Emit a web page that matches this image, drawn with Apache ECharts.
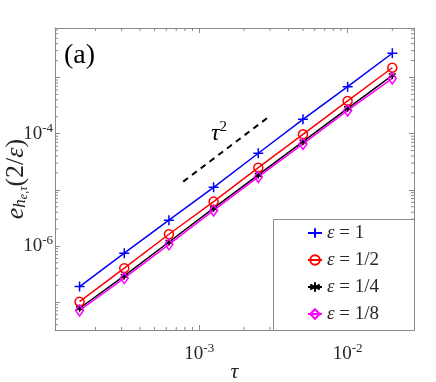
<!DOCTYPE html>
<html>
<head>
<meta charset="utf-8">
<script src="https://cdn.jsdelivr.net/npm/echarts@6/dist/echarts.min.js"></script>
<style>
  html, body { margin: 0; padding: 0; background: #fff; }
  #chart { width: 436px; height: 382px; }
</style>
</head>
<body>
<div id="chart"></div>
<script>
// time steps tau
const tau = [1.5625e-4, 3.125e-4, 6.25e-4, 1.25e-3, 2.5e-3, 5e-3, 1e-2, 2e-2];
// errors e_{h_e,tau}(2/eps)
const errEps1 = [1.90e-7, 7.45e-7, 2.88e-6, 1.11e-5, 4.48e-5, 1.80e-4, 6.85e-4, 2.70e-3];
const errEps2 = [1.02e-7, 4.03e-7, 1.62e-6, 6.17e-6, 2.48e-5, 9.75e-5, 3.82e-4, 1.49e-3];
const errEps4 = [7.8e-8, 2.94e-7, 1.18e-6, 4.71e-6, 1.84e-5, 7.21e-5, 2.83e-4, 1.09e-3];
const errEps8 = [7.15e-8, 2.69e-7, 1.07e-6, 4.30e-6, 1.70e-5, 6.56e-5, 2.59e-4, 9.6e-4];
const seriesNames = ['ε = 1', 'ε = 1/2', 'ε = 1/4', 'ε = 1/8'];
// reference slope line tau^2
const refTau = [7.8e-4, 3.0e-3];
const refErr = [1.4e-5, 2.07e-4];
// labelled decades
const xLabelExp = [-3, -2];
const yLabelExp = [-4, -6];

const SERIF = '"Liberation Serif", "DejaVu Serif", serif';
const AXIS_GRAY = '#8a8a8a';
const LABEL_COLOR = '#262626';
const X_MIN = 1.067e-4, X_MAX = 0.028;
const Y_MIN = 3.2e-8, Y_MAX = 7.6e-3;

const chart = echarts.init(document.getElementById('chart'));

function pow10Label(keep) {
  return function (v) {
    const e = Math.round(Math.log10(v));
    if (Math.abs(Math.log10(v) - e) > 1e-6 || keep.indexOf(e) < 0) return '';
    return '{b|10}{s|' + e + '}';
  };
}
const powRich = {
  b: { fontFamily: SERIF, fontSize: 19, color: LABEL_COLOR },
  s: { fontFamily: SERIF, fontSize: 13, color: LABEL_COLOR, padding: [0, 0, 11, 0] }
};

function axisBase(show) {
  return {
    type: 'log',
    logBase: 10,
    axisLine: { show: true, lineStyle: { color: AXIS_GRAY, width: 1 } },
    axisTick: { show: true, inside: true, length: 5, lineStyle: { color: AXIS_GRAY } },
    splitLine: { show: false },
    axisLabel: { show: show }
  };
}

const xBottom = Object.assign(axisBase(true), {
  position: 'bottom', min: X_MIN, max: X_MAX,
  name: 'τ', nameLocation: 'middle', nameGap: 31, nameMoveOverlap: false,
  nameTextStyle: { fontFamily: SERIF, fontSize: 22, fontStyle: 'italic', color: LABEL_COLOR },
  axisLabel: { show: true, margin: 12, fontFamily: SERIF, fontSize: 19, color: LABEL_COLOR,
    formatter: pow10Label(xLabelExp), rich: powRich, showMinLabel: false, showMaxLabel: false }
});
const xTop = Object.assign(axisBase(false), { position: 'top', min: X_MIN, max: X_MAX });
const yLeft = Object.assign(axisBase(true), {
  position: 'left', min: Y_MIN, max: Y_MAX,
  name: '{e|e}{h|h}{ss|e,τ}{n|(2/}{ni|ε}{n|)}', nameLocation: 'middle', nameGap: 25, nameMoveOverlap: false,
  nameTextStyle: {
    padding: [0, 0, 0, 0],
    rich: {
      e: { fontFamily: SERIF, fontSize: 26, fontStyle: 'italic', color: LABEL_COLOR },
      h: { fontFamily: SERIF, fontSize: 17, fontStyle: 'italic', color: LABEL_COLOR, padding: [9, 0, 0, 0] },
      ss: { fontFamily: SERIF, fontSize: 12, fontStyle: 'italic', color: LABEL_COLOR, padding: [16, 0, 0, 0] },
      n: { fontFamily: SERIF, fontSize: 26, color: LABEL_COLOR },
      ni: { fontFamily: SERIF, fontSize: 26, fontStyle: 'italic', color: LABEL_COLOR }
    }
  },
  axisLabel: { show: true, margin: 2, fontFamily: SERIF, fontSize: 19, color: LABEL_COLOR,
    formatter: pow10Label(yLabelExp), rich: powRich, showMinLabel: false, showMaxLabel: false }
});
const yRight = Object.assign(axisBase(false), { position: 'right', min: Y_MIN, max: Y_MAX });

function pts(ys) { return tau.map((t, i) => [t, ys[i]]); }

const plusPath = 'path://M0,-5L0,5M-5,0L5,0';
const starPath = 'path://M0,-5L0,5M-4.3,-2.5L4.3,2.5M-4.3,2.5L4.3,-2.5';

function lineSeries(name, data, color, symbol, size, fill) {
  return {
    name: name, type: 'line', data: pts(data),
    xAxisIndex: 0, yAxisIndex: 0,
    symbol: symbol, symbolSize: size, showSymbol: true,
    lineStyle: { color: color, width: 1.5 },
    itemStyle: { color: fill || color, borderColor: color, borderWidth: 1.5 },
    z: 3
  };
}

const option = {
  animation: false,
  backgroundColor: '#fff',
  grid: { left: 55, right: 22, top: 28, bottom: 52, containLabel: false, outerBoundsMode: 'none' },
  xAxis: [xBottom, xTop],
  yAxis: [yLeft, yRight],
  legend: {
    data: seriesNames,
    orient: 'vertical',
    left: 307, top: 223,
    itemWidth: 14, itemHeight: 12, itemGap: 7,
    padding: 0,
    textStyle: { fontFamily: SERIF, fontSize: 19, color: LABEL_COLOR, lineHeight: 20 },
    formatter: function (n) { return '{i|ε}' + n.slice(1); },
    z: 10
  },
  graphic: [
    { type: 'rect', left: 273, top: 219, z: 5,
      shape: { width: 141, height: 111 },
      style: { fill: '#fff', stroke: AXIS_GRAY, lineWidth: 1 } },
    { type: 'text', left: 64, top: 42, z: 5,
      style: { text: '(a)', fontFamily: SERIF, fontSize: 28, fill: '#000' } },
    { type: 'text', left: 211, top: 120, z: 5,
      style: { text: '{t|τ}{s|2}', rich: {
        t: { fontFamily: SERIF, fontSize: 24, fontStyle: 'italic', fill: '#000' },
        s: { fontFamily: SERIF, fontSize: 15, fill: '#000', padding: [0, 0, 13, 0] } } } }
  ],
  series: [
    lineSeries(seriesNames[0], errEps1, '#0000ff', plusPath, 10),
    lineSeries(seriesNames[1], errEps2, '#ff0000', 'circle', 9, 'rgba(255,255,255,0)'),
    lineSeries(seriesNames[2], errEps4, '#000000', starPath, 7),
    lineSeries(seriesNames[3], errEps8, '#ff00ff', 'diamond', [8, 11], 'rgba(255,255,255,0)'),
    {
      name: 'ref', type: 'line', data: refTau.map((t, i) => [t, refErr[i]]),
      symbol: 'none', lineStyle: { color: '#000', width: 2, type: [6, 5] }, z: 2
    }
  ]
};
option.legend.textStyle.rich = { i: { fontFamily: SERIF, fontSize: 19, fontStyle: 'italic', color: LABEL_COLOR } };
chart.setOption(option);

// MATLAB-style minor ticks (2..9 per decade) on all four sides, placed through the axes' own scales
const minor = [];
const gx0 = chart.convertToPixel({ xAxisIndex: 0 }, X_MIN), gx1 = chart.convertToPixel({ xAxisIndex: 0 }, X_MAX);
const gy0 = chart.convertToPixel({ yAxisIndex: 0 }, Y_MIN), gy1 = chart.convertToPixel({ yAxisIndex: 0 }, Y_MAX);
for (let d = -9; d <= -1; d++) {
  for (let k = 2; k <= 9; k++) {
    const v = k * Math.pow(10, d);
    if (v > X_MIN && v < X_MAX) {
      const x = chart.convertToPixel({ xAxisIndex: 0 }, v);
      minor.push({ type: 'line', z: 4, silent: true, shape: { x1: x, y1: gy0, x2: x, y2: gy0 - 3 }, style: { stroke: AXIS_GRAY, lineWidth: 1 } });
      minor.push({ type: 'line', z: 4, silent: true, shape: { x1: x, y1: gy1, x2: x, y2: gy1 + 3 }, style: { stroke: AXIS_GRAY, lineWidth: 1 } });
    }
    if (v > Y_MIN && v < Y_MAX) {
      const y = chart.convertToPixel({ yAxisIndex: 0 }, v);
      minor.push({ type: 'line', z: 4, silent: true, shape: { x1: gx0, y1: y, x2: gx0 + 3, y2: y }, style: { stroke: AXIS_GRAY, lineWidth: 1 } });
      minor.push({ type: 'line', z: 4, silent: true, shape: { x1: gx1, y1: y, x2: gx1 - 3, y2: y }, style: { stroke: AXIS_GRAY, lineWidth: 1 } });
    }
  }
}
chart.setOption({ graphic: option.graphic.concat(minor) });
</script>
</body>
</html>
